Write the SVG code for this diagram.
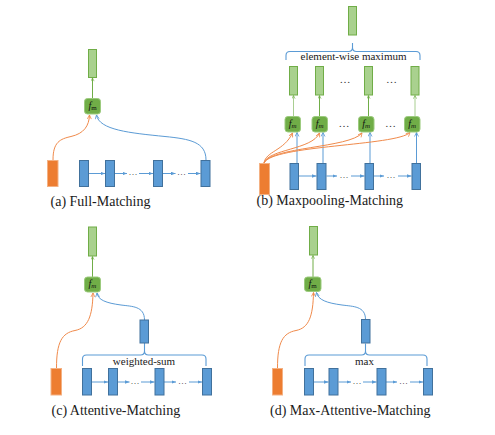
<svg xmlns="http://www.w3.org/2000/svg" width="495" height="435" viewBox="0 0 495 435">
<style>
.gtop{fill:#A9D18E;stroke:#70AD47;stroke-width:1}
.fm{fill:#70AD47;stroke:#9CCB7E;stroke-width:1}
.blue{fill:#5B9BD5;stroke:#41719C;stroke-width:1}
.orange{fill:#ED7D31;stroke:#F4B183;stroke-width:1}
.gl{stroke:#70AD47;stroke-width:1;fill:none}
.bl{stroke:#5B9BD5;stroke-width:1;fill:none}
.ol{stroke:#F08A4B;stroke-width:1;fill:none}
.brace{stroke:#5B9BD5;stroke-width:1.1;fill:none}
.fmt{font-family:"Liberation Serif",serif;font-size:10px;fill:#111}
.cap{font-family:"Liberation Serif",serif;font-size:14px;fill:#1a1a1a}
.lab{font-family:"Liberation Serif",serif;font-size:11px;fill:#1a1a1a;text-anchor:middle}
.dots{font-family:"Liberation Serif",serif;font-size:9px;fill:#333;text-anchor:middle}
.gdots{font-family:"Liberation Serif",serif;font-size:11px;fill:#333;text-anchor:middle}
</style>
<defs>
<marker id="ab" viewBox="0 0 10 8" refX="10" refY="4" markerWidth="4.5" markerHeight="3.6" markerUnits="userSpaceOnUse" orient="auto"><path d="M0,0 L10,4 L0,8 z" fill="#5B9BD5"/></marker>
<marker id="abo" viewBox="0 0 10 10" refX="9" refY="5" markerWidth="5" markerHeight="5" markerUnits="userSpaceOnUse" orient="auto"><path d="M1,1 L9,5 L1,9" fill="none" stroke="#5B9BD5" stroke-width="1.6"/></marker>
<marker id="ao" viewBox="0 0 10 10" refX="9" refY="5" markerWidth="5" markerHeight="5" markerUnits="userSpaceOnUse" orient="auto"><path d="M1,1 L9,5 L1,9" fill="none" stroke="#F08A4B" stroke-width="1.6"/></marker>
<marker id="ag" viewBox="0 0 10 10" refX="9" refY="5" markerWidth="4" markerHeight="4" markerUnits="userSpaceOnUse" orient="auto"><path d="M1,1 L9,5 L1,9" fill="none" stroke="#70AD47" stroke-width="1.6"/></marker>
</defs>

<!-- ============ connectors ============ -->
<g id="connectors">
<!-- (a) -->
<path class="gl" d="M92.5,98 L92.5,78" marker-end="url(#ag)"/>
<path class="ol" d="M53,160 C53,142 60,139 71,136.5 C84,133.5 89,126 89.5,115" marker-end="url(#ao)"/>
<path class="bl" d="M206,160 C206,142 190,139 165,136.5 C130,133 99,130 96.5,115" marker-end="url(#abo)"/>
<path class="bl" d="M88.5,173.5 L105,173.5" marker-end="url(#ab)"/>
<path class="bl" d="M115,173.5 L127,173.5" marker-end="url(#ab)"/>
<path class="bl" d="M139,173.5 L153,173.5" marker-end="url(#ab)"/>
<path class="bl" d="M163,173.5 L175.5,173.5" marker-end="url(#ab)"/>
<path class="bl" d="M188,173.5 L200.5,173.5" marker-end="url(#ab)"/>

<!-- (b) -->
<path class="brace" d="M286,60 L286,55.5 Q286,51.5 290,51.5 L348.5,51.5 Q352.5,51.5 352.5,47.5 L352.5,43 M352.5,47.5 Q352.5,51.5 356.5,51.5 L416,51.5 Q420,51.5 420,55.5 L420,60"/>
<path class="gl" d="M293.5,116 L293.5,95.5" stroke-opacity="0.6" marker-end="url(#ag)"/>
<path class="gl" d="M319.5,116 L319.5,95.5" marker-end="url(#ag)"/>
<path class="gl" d="M368.5,116 L368.5,95.5" marker-end="url(#ag)"/>
<path class="gl" d="M415,116 L415,95.5" stroke-opacity="0.6" marker-end="url(#ag)"/>
<path class="bl" d="M297,163 L297,132.5" marker-end="url(#abo)"/>
<path class="bl" d="M323,163 L323,132.5" marker-end="url(#abo)"/>
<path class="bl" d="M370,163 L370,132.5" marker-end="url(#abo)"/>
<path class="bl" d="M416.5,163 L416.5,132.5" marker-end="url(#abo)"/>
<path class="ol" d="M264,163 C266,151 284,151 292.5,133" marker-end="url(#ao)"/>
<path class="ol" d="M264,163 C268,149 312,150 319.5,133" marker-end="url(#ao)"/>
<path class="ol" d="M264,163 C270,147 350,148 362,133" marker-end="url(#ao)"/>
<path class="ol" d="M264,163 C272,145 396,146 410,132.5" marker-end="url(#ao)"/>
<path class="bl" d="M299,176 L316.5,176" marker-end="url(#ab)"/>
<path class="bl" d="M326.5,176 L337,176" marker-end="url(#ab)"/>
<path class="bl" d="M351,176 L364.5,176" marker-end="url(#ab)"/>
<path class="bl" d="M374,176 L384,176" marker-end="url(#ab)"/>
<path class="bl" d="M398,176 L411.5,176" marker-end="url(#ab)"/>

<!-- (c) -->
<path class="gl" d="M92.5,277 L92.5,256.5" marker-end="url(#ag)"/>
<path class="ol" d="M56.5,368 C56.5,342 62,333 75,330.5 C88,328 92.5,316 93,293" marker-end="url(#ao)"/>
<path class="bl" d="M144.5,320 C144.5,306 132,306.5 121,305 C106,303 98,300 97,293" marker-end="url(#abo)"/>
<path class="brace" d="M82.5,366 L82.5,359 Q82.5,355 86.5,355 L140.5,355 Q144.5,355 144.5,351 L144.5,343 M144.5,351 Q144.5,355 148.5,355 L202,355 Q206,355 206,359 L206,366"/>
<path class="bl" d="M91.5,382 L108,382" marker-end="url(#ab)"/>
<path class="bl" d="M117.5,382 L129.5,382" marker-end="url(#ab)"/>
<path class="bl" d="M141,382 L154.5,382" marker-end="url(#ab)"/>
<path class="bl" d="M164,382 L176,382" marker-end="url(#ab)"/>
<path class="bl" d="M189,382 L202,382" marker-end="url(#ab)"/>

<!-- (d) -->
<path class="gl" d="M313,277 L313,255.5" marker-end="url(#ag)"/>
<path class="ol" d="M277.5,368 C277.5,342 283,333 296,330.5 C309,328 313,316 313.5,292.5" marker-end="url(#ao)"/>
<path class="bl" d="M365.5,319.5 C365.5,306 353,306.5 342,305 C327,303 318,300 316.5,292.5" marker-end="url(#abo)"/>
<path class="brace" d="M305,366 L305,359 Q305,355 309,355 L361.5,355 Q365.5,355 365.5,351 L365.5,343.5 M365.5,351 Q365.5,355 369.5,355 L423,355 Q427,355 427,359 L427,366"/>
<path class="bl" d="M313.5,382 L328.5,382" marker-end="url(#ab)"/>
<path class="bl" d="M338.5,382 L351,382" marker-end="url(#ab)"/>
<path class="bl" d="M363,382 L376.5,382" marker-end="url(#ab)"/>
<path class="bl" d="M386,382 L397,382" marker-end="url(#ab)"/>
<path class="bl" d="M410,382 L423,382" marker-end="url(#ab)"/>
</g>

<!-- ============ (a) Full-Matching ============ -->
<g id="panel-a">
<rect id="a-out" class="gtop" x="88.5" y="49.5" width="8" height="28"/>
<g id="a-fm"><rect class="fm" x="84.5" y="98.5" width="16" height="15.5" rx="3"/><text class="fmt" x="92.5" y="108.5" text-anchor="middle"><tspan font-style="italic">f</tspan><tspan font-size="7" dy="1.5">m</tspan></text></g>
<rect id="a-p" class="orange" x="47.5" y="160.5" width="10.5" height="26"/>
<rect id="a-q1" class="blue" x="79.5" y="160.5" width="9" height="26"/>
<rect id="a-q2" class="blue" x="105.5" y="160.5" width="9" height="26"/>
<rect id="a-q3" class="blue" x="153.5" y="160.5" width="9" height="26"/>
<rect id="a-q4" class="blue" x="201" y="160.5" width="9" height="26"/>
<text class="dots" x="133" y="175">…</text>
<text class="dots" x="181.5" y="175">…</text>
<text class="cap" x="50.5" y="206">(a) Full-Matching</text>
</g>

<!-- ============ (b) Maxpooling-Matching ============ -->
<g id="panel-b">
<rect id="b-out" class="gtop" x="348.5" y="6.5" width="8" height="28.5"/>
<text class="lab" x="353.5" y="59.5">element-wise maximum</text>
<rect id="b-g1" class="gtop" x="289.5" y="66.5" width="8" height="28.5"/>
<rect id="b-g2" class="gtop" x="315.5" y="66.5" width="8" height="28.5"/>
<rect id="b-g3" class="gtop" x="364.5" y="66.5" width="8" height="28.5"/>
<rect id="b-g4" class="gtop" x="411" y="66.5" width="8" height="28.5"/>
<text class="gdots" x="345" y="83">…</text>
<text class="gdots" x="391.5" y="83">…</text>
<g id="b-fm1"><rect class="fm" x="285" y="116.5" width="15.5" height="15.5" rx="3"/><text class="fmt" x="292.7" y="126.5" text-anchor="middle"><tspan font-style="italic">f</tspan><tspan font-style="italic" font-size="7" dy="1.5">m</tspan></text></g>
<g id="b-fm2"><rect class="fm" x="312" y="116.5" width="15.5" height="15.5" rx="3"/><text class="fmt" x="319.7" y="126.5" text-anchor="middle"><tspan font-style="italic">f</tspan><tspan font-style="italic" font-size="7" dy="1.5">m</tspan></text></g>
<g id="b-fm3"><rect class="fm" x="358.5" y="116.5" width="15.5" height="15.5" rx="3"/><text class="fmt" x="366.2" y="126.5" text-anchor="middle"><tspan font-style="italic">f</tspan><tspan font-style="italic" font-size="7" dy="1.5">m</tspan></text></g>
<g id="b-fm4"><rect class="fm" x="404.5" y="116.5" width="15.5" height="15.5" rx="3"/><text class="fmt" x="412.2" y="126.5" text-anchor="middle"><tspan font-style="italic">f</tspan><tspan font-style="italic" font-size="7" dy="1.5">m</tspan></text></g>
<text class="gdots" x="344" y="127">…</text>
<text class="gdots" x="390.5" y="127">…</text>
<rect id="b-p" class="orange" x="259.5" y="163.5" width="10" height="31"/>
<rect id="b-q1" class="blue" x="290" y="163.5" width="8.5" height="26"/>
<rect id="b-q2" class="blue" x="317" y="163.5" width="9" height="26"/>
<rect id="b-q3" class="blue" x="365" y="163.5" width="8.5" height="26"/>
<rect id="b-q4" class="blue" x="412" y="163.5" width="8.5" height="26"/>
<text class="dots" x="344" y="177.5">…</text>
<text class="dots" x="391" y="177.5">…</text>
<text class="cap" x="256.5" y="205">(b) Maxpooling-Matching</text>
</g>

<!-- ============ (c) Attentive-Matching ============ -->
<g id="panel-c">
<rect id="c-out" class="gtop" x="88.5" y="227" width="8" height="29"/>
<g id="c-fm"><rect class="fm" x="84.5" y="277" width="16" height="15" rx="3"/><text class="fmt" x="92.5" y="286.5" text-anchor="middle"><tspan font-style="italic">f</tspan><tspan font-style="italic" font-size="7" dy="1.5">m</tspan></text></g>
<rect id="c-att" class="blue" x="140" y="320" width="8.5" height="23"/>
<text class="lab" x="144" y="365">weighted-sum</text>
<rect id="c-p" class="orange" x="51" y="368.5" width="10.5" height="26.5"/>
<rect id="c-q1" class="blue" x="82.5" y="368.5" width="9" height="26.5"/>
<rect id="c-q2" class="blue" x="108.5" y="368.5" width="9" height="26.5"/>
<rect id="c-q3" class="blue" x="155" y="368.5" width="9" height="26.5"/>
<rect id="c-q4" class="blue" x="202.5" y="368.5" width="9" height="26.5"/>
<text class="dots" x="135" y="383.5">…</text>
<text class="dots" x="182.5" y="383.5">…</text>
<text class="cap" x="51.5" y="415">(c) Attentive-Matching</text>
</g>

<!-- ============ (d) Max-Attentive-Matching ============ -->
<g id="panel-d">
<rect id="d-out" class="gtop" x="309.5" y="226.5" width="8" height="28.5"/>
<g id="d-fm"><rect class="fm" x="304.5" y="277" width="16.5" height="14.5" rx="3"/><text class="fmt" x="312.7" y="286.5" text-anchor="middle"><tspan font-style="italic">f</tspan><tspan font-size="7" dy="1.5">m</tspan></text></g>
<rect id="d-att" class="blue" x="361.5" y="319.5" width="8.5" height="23.5"/>
<text class="lab" x="364.5" y="364.5">max</text>
<rect id="d-p" class="orange" x="272.5" y="368.5" width="10" height="26.5"/>
<rect id="d-q1" class="blue" x="304.5" y="368.5" width="9" height="26.5"/>
<rect id="d-q2" class="blue" x="329" y="368.5" width="9" height="26.5"/>
<rect id="d-q3" class="blue" x="377" y="368.5" width="9" height="26.5"/>
<rect id="d-q4" class="blue" x="423.5" y="368.5" width="9" height="26.5"/>
<text class="dots" x="357" y="383.5">…</text>
<text class="dots" x="403.5" y="383.5">…</text>
<text class="cap" x="270" y="415">(d) Max-Attentive-Matching</text>
</g>
</svg>
